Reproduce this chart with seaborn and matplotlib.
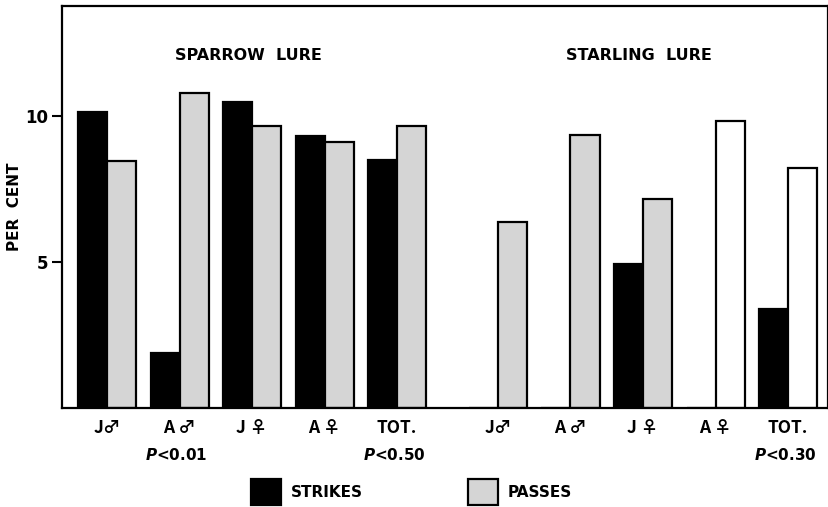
import matplotlib
matplotlib.use("Agg")
import matplotlib.pyplot as plt
import seaborn as sns
import pandas as pd
import numpy as np
from matplotlib.transforms import blended_transform_factory

# ---- data ----
lures = ["SPARROW LURE", "STARLING LURE"]
groups = ["J\u2642", "A \u2642", "J \u2640", "A \u2640", "TOT."]
strikes_sparrow = [10.15, 1.9, 10.5, 9.32, 8.5]
passes_sparrow = [8.45, 10.8, 9.65, 9.1, 9.65]
strikes_starling = [0.0, 0.0, 4.93, 0.0, 3.4]
passes_starling = [6.38, 9.37, 7.16, 9.83, 8.21]
p_values = {("SPARROW LURE", "A \u2642"): "0.01",
            ("SPARROW LURE", "TOT."): "0.50",
            ("STARLING LURE", "TOT."): "0.30"}
open_passes = {("STARLING LURE", "A \u2640"), ("STARLING LURE", "TOT.")}

# ---- layout ----
gap = 1.39  # spacing between last sparrow group and first starling group
positions = {}
for li, lure in enumerate(lures):
    for gi, g in enumerate(groups):
        positions[(lure, g)] = gi + li * (len(groups) - 1 + gap)

rows = []
for lure, st, pa in [(lures[0], strikes_sparrow, passes_sparrow),
                     (lures[1], strikes_starling, passes_starling)]:
    for g, s, p in zip(groups, st, pa):
        rows.append(dict(lure=lure, group=g, pos=positions[(lure, g)],
                         kind="STRIKES", value=s))
        rows.append(dict(lure=lure, group=g, pos=positions[(lure, g)],
                         kind="PASSES", value=p))
df = pd.DataFrame(rows)

sns.set_theme(style="white")
plt.rcParams["font.family"] = ["DejaVu Sans"]
plt.rcParams["font.weight"] = "bold"
plt.rcParams["text.color"] = "black"
plt.rcParams["axes.labelcolor"] = "black"
plt.rcParams["xtick.color"] = "black"
plt.rcParams["ytick.color"] = "black"
plt.rcParams["mathtext.fontset"] = "custom"
plt.rcParams["mathtext.it"] = "DejaVu Sans:italic:bold"
plt.rcParams["mathtext.rm"] = "DejaVu Sans:bold"

fig = plt.figure(figsize=(8.29, 5.07), dpi=100)
ax = fig.add_axes([0.0748, 0.1953, 0.9240, 0.7927])

gray = "#d5d5d5"
sns.barplot(data=df, x="pos", y="value", hue="kind",
            hue_order=["STRIKES", "PASSES"], native_scale=True,
            palette={"STRIKES": "black", "PASSES": gray},
            width=0.8, edgecolor="black", linewidth=1.6,
            errorbar=None, ax=ax)

# open (unfilled) passes bars
sorted_keys = sorted(positions, key=lambda k: positions[k])
for key, patch in zip(sorted_keys, ax.containers[1]):
    if key in open_passes:
        patch.set_facecolor("white")

ax.set_ylim(0, 13.77)
ax.set_xlim(-0.62, 9.94)
ax.set_yticks([5, 10])
ax.set_yticklabels(["5", "10"], fontsize=12, fontweight="bold")
ax.tick_params(axis="y", left=True, length=7, width=1.5, pad=3)
ax.set_ylabel("PER  CENT", fontsize=11, fontweight="bold", labelpad=2)

xt = [positions[k] for k in sorted_keys]
ax.set_xticks(xt)
ax.set_xticklabels([k[1] for k in sorted_keys], fontsize=12.5,
                   fontweight="bold",
                   family=["Noto Sans CJK JP", "DejaVu Sans"])
ax.tick_params(axis="x", bottom=False, length=0, pad=8)
ax.set_xlabel("")

for sp in ax.spines.values():
    sp.set_visible(True)
    sp.set_linewidth(1.6)
    sp.set_color("black")

trans = blended_transform_factory(ax.transData, ax.transAxes)
for (lure, g), pv in p_values.items():
    ax.text(positions[(lure, g)] - 0.04, -0.117, r"$\it{P}$<" + pv,
            transform=trans, ha="center", va="center", fontsize=11,
            fontweight="bold", clip_on=False)

for lure in lures:
    cx = np.mean([positions[(lure, g)] for g in groups])
    ax.text(cx - 0.05, 0.878, lure.replace(" ", "  "), transform=trans,
            ha="center", va="center", fontsize=11.5, fontweight="bold")

sns.move_legend(ax, "center", bbox_to_anchor=(0.4964, 0.03),
                bbox_transform=fig.transFigure, ncol=2, frameon=False,
                title=None, fontsize=11, handlelength=1.95,
                handleheight=2.2, handletextpad=0.65, columnspacing=6.9)
for t in ax.get_legend().get_texts():
    t.set_fontweight("bold")

fig.savefig("out.png", dpi=100)
